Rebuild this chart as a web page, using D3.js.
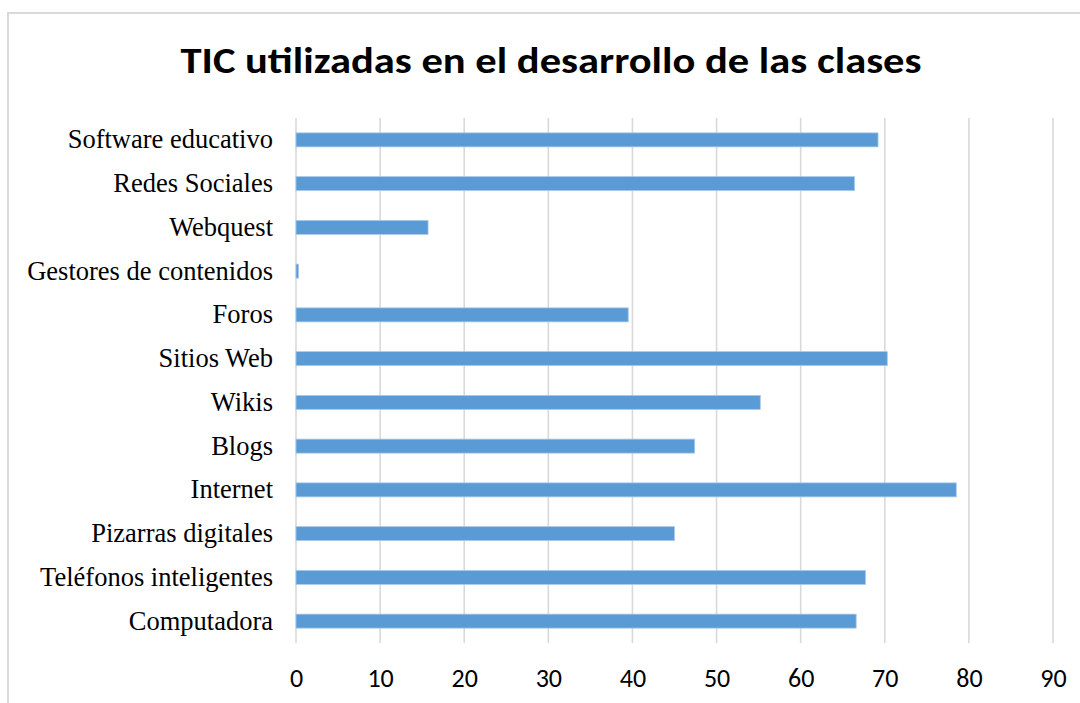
<!DOCTYPE html>
<html>
<head>
<meta charset="utf-8">
<script src="https://cdn.jsdelivr.net/npm/d3@7"></script>
<style>
  html, body { margin: 0; padding: 0; background: #fff; }
  svg { display: block; }
</style>
</head>
<body>
<svg id="chart" width="1080" height="703"></svg>
<script>
const categories = [
  "Software educativo", "Redes Sociales", "Webquest", "Gestores de contenidos",
  "Foros", "Sitios Web", "Wikis", "Blogs", "Internet", "Pizarras digitales",
  "Teléfonos inteligentes", "Computadora"
];
const values = [69.2, 66.4, 15.7, 0.3, 39.5, 70.3, 55.2, 47.4, 78.5, 45.0, 67.7, 66.6];
const tickValues = [0, 10, 20, 30, 40, 50, 60, 70, 80, 90];
const title = "TIC utilizadas en el desarrollo de las clases";

const svg = d3.select("#chart");
const W = 1080, H = 703;
const margin = { left: 296, right: 27, top: 118, bottom: 60 };
const plotW = W - margin.left - margin.right;
const plotH = H - margin.top - margin.bottom;

// chart frame
svg.append("rect")
  .attr("x", 8).attr("y", 13)
  .attr("width", 1090).attr("height", 720)
  .attr("fill", "#fff").attr("stroke", "#d9d9d9").attr("stroke-width", 2);

// title
svg.append("text")
  .attr("x", 551).attr("y", 73)
  .attr("text-anchor", "middle")
  .attr("font-family", "Carlito, Calibri, 'Open Sans', sans-serif")
  .attr("font-weight", "bold")
  .attr("font-size", 37)
  .attr("textLength", 741)
  .attr("lengthAdjust", "spacingAndGlyphs")
  .attr("fill", "#000")
  .text(title);

const x = d3.scaleLinear().domain([0, 90]).range([0, plotW]);
const y = d3.scaleBand().domain(categories).range([0, plotH]).paddingInner(0.68).paddingOuter(0.34);

const g = svg.append("g").attr("transform", `translate(${margin.left},${margin.top})`);

// gridlines
g.append("g")
  .selectAll("line")
  .data(tickValues)
  .join("line")
  .attr("x1", d => x(d)).attr("x2", d => x(d))
  .attr("y1", 0).attr("y2", plotH)
  .attr("stroke", "#d9d9d9").attr("stroke-width", 1.6);

// bars
g.append("g")
  .selectAll("rect")
  .data(categories.map((c, i) => ({ c, v: values[i] })))
  .join("rect")
  .attr("x", x(0))
  .attr("y", d => y(d.c))
  .attr("width", d => x(d.v))
  .attr("height", y.bandwidth())
  .attr("fill", "#5b9bd5")
  .attr("stroke", "#a9c9e9")
  .attr("stroke-width", 0.8);

// y axis
const yAxis = g.append("g")
  .call(d3.axisLeft(y).tickSize(0).tickPadding(23));
yAxis.select(".domain").remove();
yAxis.selectAll("text")
  .attr("font-family", "'Liberation Serif', 'Times New Roman', serif")
  .attr("font-size", 26.5)
  .attr("fill", "#000");

// x axis
const xAxis = g.append("g")
  .attr("transform", `translate(0,${plotH})`)
  .call(d3.axisBottom(x).tickValues(tickValues).tickSize(0).tickPadding(26).tickFormat(d3.format("d")));
xAxis.select(".domain").remove();
xAxis.selectAll("text")
  .attr("font-family", "Carlito, Calibri, Lato, sans-serif")
  .attr("font-size", 26)
  .attr("fill", "#000");
</script>
</body>
</html>
